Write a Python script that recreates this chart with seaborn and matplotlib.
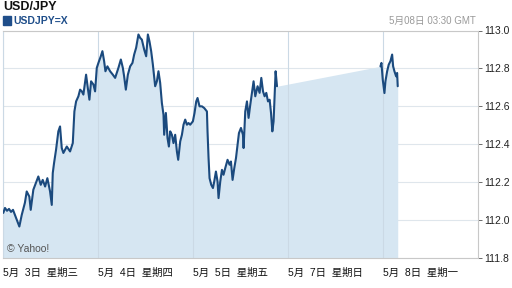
import numpy as np
import pandas as pd
import matplotlib
matplotlib.use("Agg")
import matplotlib.pyplot as plt
import seaborn as sns

# hours since 5/3 00:00 on the trading-session axis (weekend collapsed)
hours_a = [0.15, 0.58, 1.09, 1.59, 2.1, 2.6, 3.1, 3.6, 4.2, 4.8, 5.6, 6.06, 6.72, 7.07,
           7.73, 8.41, 8.99, 9.6, 10.1, 10.7, 11.27, 11.95, 12.38, 12.63, 12.96, 13.46,
           14.04, 14.47, 14.9, 15.31, 16.17, 17.0, 17.68, 18.09, 18.52, 19.1, 19.53,
           19.96, 20.36, 21.04, 21.47, 21.88, 22.3, 22.89, 23.31, 23.74, 24.15, 24.75,
           25.16, 25.59, 25.92, 26.42, 27.1, 27.79, 28.37, 29.2, 29.81, 30.31, 30.64,
           31.07, 31.58, 32.16, 32.74, 33.17, 33.67, 34.25, 34.68, 35.11, 35.69, 36.2,
           36.63, 37.03, 37.46, 37.89, 38.47, 38.9, 39.3, 39.73, 40.16, 40.57, 40.74,
           41.17, 41.58, 41.93, 42.26, 42.69, 43.09, 43.52, 43.95, 44.28, 44.79, 45.22,
           45.62, 46.05, 46.48, 46.88, 47.31, 47.99, 48.4, 48.83, 49.16, 49.66, 50.27,
           50.85, 51.53, 51.68, 51.94, 52.19, 52.62, 53.05, 53.37, 53.8, 54.21, 54.46,
           54.89, 55.32, 55.72, 56.15, 56.73, 57.24, 57.59, 58.0, 58.43, 58.86, 59.26,
           59.61, 60.12, 60.62, 60.78, 61.2, 61.63, 62.04, 62.47, 62.9, 63.3, 63.73,
           64.31, 64.82, 65.25, 65.68, 66.08, 66.51, 66.94, 67.35, 67.7, 68.03, 68.35,
           68.6, 68.86, 69.21]
price_a = [112.038, 112.064, 112.049, 112.059, 112.043, 112.054, 112.027, 112.001,
           111.966, 112.027, 112.091, 112.151, 112.124, 112.054, 112.16, 112.197,
           112.23, 112.186, 112.212, 112.177, 112.221, 112.151, 112.08, 112.248,
           112.301, 112.371, 112.468, 112.494, 112.38, 112.354, 112.388, 112.362,
           112.406, 112.573, 112.626, 112.653, 112.688, 112.679, 112.662, 112.767,
           112.697, 112.635, 112.732, 112.715, 112.679, 112.803, 112.829, 112.864,
           112.891, 112.838, 112.785, 112.811, 112.785, 112.767, 112.75, 112.803,
           112.847, 112.803, 112.758, 112.688, 112.767, 112.811, 112.829, 112.873,
           112.909, 112.979, 112.961, 112.952, 112.9, 112.864, 112.979, 112.943,
           112.891, 112.82, 112.706, 112.732, 112.785, 112.724, 112.618, 112.556,
           112.45, 112.565, 112.433, 112.388, 112.468, 112.45, 112.406, 112.45,
           112.362, 112.318, 112.415, 112.45, 112.503, 112.53, 112.503, 112.512,
           112.503, 112.521, 112.565, 112.626, 112.644, 112.6, 112.6, 112.591,
           112.573, 112.468, 112.327, 112.221, 112.186, 112.169, 112.203, 112.256,
           112.203, 112.116, 112.203, 112.265, 112.239, 112.274, 112.318, 112.292,
           112.309, 112.212, 112.274, 112.327, 112.397, 112.459, 112.486, 112.45,
           112.38, 112.573, 112.626, 112.539, 112.609, 112.671, 112.732, 112.653,
           112.706, 112.671, 112.75, 112.679, 112.653, 112.671, 112.626, 112.635,
           112.565, 112.468, 112.521, 112.653, 112.785, 112.706]
hours_b = [95.31, 95.56, 95.89, 96.32, 96.57, 97.0, 97.4, 97.83, 98.26, 98.51, 98.84,
           99.27, 99.52, 99.67]
price_b = [112.811, 112.829, 112.741, 112.67, 112.732, 112.785, 112.82, 112.838,
           112.873, 112.811, 112.785, 112.758, 112.776, 112.706]

tick_hours = [0, 24, 48, 72, 96]
tick_labels = ["5月  3日  星期三", "5月  4日  星期四", "5月  5日  星期五",
               "5月  7日  星期日", "5月  8日  星期一"]
y_ticks = [111.8, 112.0, 112.2, 112.4, 112.6, 112.8, 113.0]

sns.set_style("white")
plt.rcParams["font.family"] = ["Liberation Sans", "Noto Sans CJK SC", "DejaVu Sans"]

W, H = 512, 288
fig = plt.figure(figsize=(W / 100, H / 100), dpi=100)
x0, x1, y0, y1 = 2.7, 478.3, 30.5, 258
ax = fig.add_axes([x0 / W, 1 - y1 / H, (x1 - x0) / W, (y1 - y0) / H])

df = pd.DataFrame({
    "hours": hours_a + hours_b,
    "price": price_a + price_b,
    "seg": ["a"] * len(hours_a) + ["b"] * len(hours_b),
})

line_c = "#1b4a7e"
fill_c = "#d6e6f2"
grid_c = "#dfe6ec"

ax.fill_between(df["hours"], df["price"], 111.8, color=fill_c, lw=0, zorder=1)
sns.lineplot(data=df, x="hours", y="price", hue="seg", palette=[line_c, line_c],
             legend=False, lw=1.5, ax=ax, zorder=3, estimator=None, sort=False)

ax.set_xlim(0, 120)
ax.set_ylim(111.8, 113.0)
ax.set_xlabel("")
ax.set_ylabel("")

for yv in y_ticks:
    ax.axhline(yv, color=grid_c, lw=0.8, zorder=0)
for h in tick_hours:
    ax.axvline(h, color="#cbd9e5", lw=0.8, zorder=2)

ax.yaxis.tick_right()
ax.set_yticks(y_ticks)
ax.set_yticklabels([f"{v:.1f}" for v in y_ticks])
ax.tick_params(axis="y", length=3, width=0.6, color="#555555", pad=1,
               labelsize=7.5, labelcolor="#222222")
ax.set_xticks(tick_hours)
ax.set_xticklabels(tick_labels, ha="left")
ax.tick_params(axis="x", length=4, width=0.6, color="#555555", pad=3,
               labelsize=7.5, labelcolor="#111111")

for s in ["top", "right", "bottom"]:
    ax.spines[s].set_color("#c8c8c8")
    ax.spines[s].set_linewidth(0.8)
ax.spines["left"].set_color("#cbd9e5")
ax.spines["left"].set_linewidth(0.8)

ax.text(0.01, 0.04, "© Yahoo!", transform=ax.transAxes, fontsize=7.5,
        color="#555555", va="center", ha="left")

fig.text(3 / W, 1 - 7 / H, "USD/JPY", fontsize=9, fontweight="bold",
         color="#111111", va="center", ha="left")
fig.patches.append(matplotlib.patches.Rectangle((2.5 / W, 1 - 24.5 / H), 8 / W, 8 / H,
                   transform=fig.transFigure, color="#1f4e8a", figure=fig))
fig.text(13 / W, 1 - 20.5 / H, "USDJPY=X", fontsize=7.5, fontweight="bold",
         color="#1f4e8a", va="center", ha="left")
fig.text(476 / W, 1 - 20.5 / H, "5月08日 03:30 GMT", fontsize=7, color="#999999",
         va="center", ha="right")

fig.savefig("out.png", dpi=100)
